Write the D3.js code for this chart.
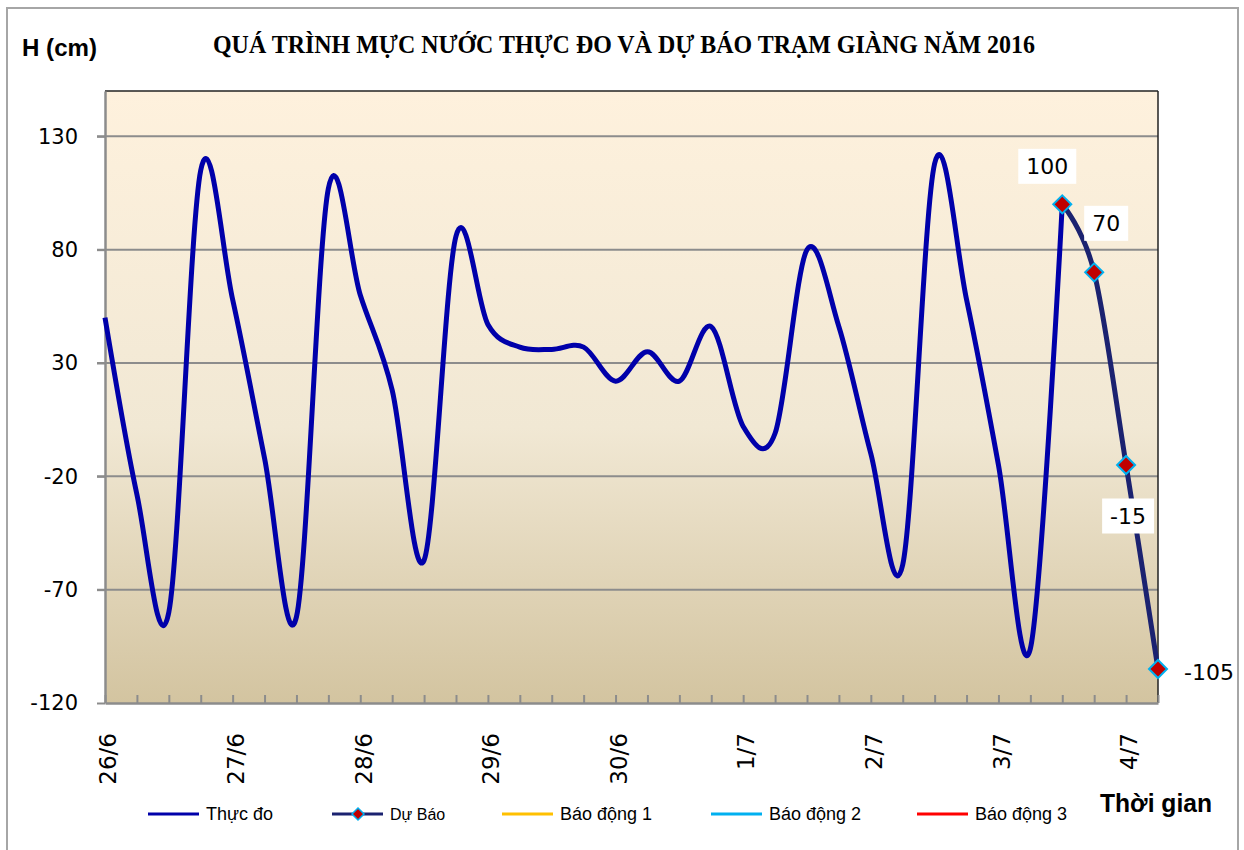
<!DOCTYPE html>
<html><head><meta charset="utf-8">
<script src="https://cdn.jsdelivr.net/npm/d3@7"></script>
<style>body{margin:0;background:#fff;overflow:hidden}</style></head>
<body><svg id="c" width="1244" height="850"></svg>
<script>
// ---------- data ----------
const categories = [
  "26/6 00h","26/6 06h","26/6 12h","26/6 18h",
  "27/6 00h","27/6 06h","27/6 12h","27/6 18h",
  "28/6 00h","28/6 06h","28/6 12h","28/6 18h",
  "29/6 00h","29/6 06h","29/6 12h","29/6 18h",
  "30/6 00h","30/6 06h","30/6 12h","30/6 18h",
  "1/7 00h","1/7 06h","1/7 12h","1/7 18h",
  "2/7 00h","2/7 06h","2/7 12h","2/7 18h",
  "3/7 00h","3/7 06h","3/7 12h","3/7 18h",
  "4/7 00h","4/7 06h"
];
const observedCategories = categories.slice(0, 31);
const observedValues = [
  50, -28, -80, 115,
  58, -12, -82, 107,
  60, 18, -57, 86,
  47, 37, 36, 37,
  22, 35, 22, 46,
  2, -1, 80, 46,
  -10, -59, 118, 58,
  -15, -96, 100
];
const forecastCategories = ["3/7 12h","3/7 18h","4/7 00h","4/7 06h"];
const forecastValues = [100, 70, -15, -105];
const forecastLabels = ["100", "70", "-15", "-105"];
const tickLabels = ["26/6","27/6","28/6","29/6","30/6","1/7","2/7","3/7","4/7"];
const tickCategories = ["26/6 00h","27/6 00h","28/6 00h","29/6 00h","30/6 00h","1/7 00h","2/7 00h","3/7 00h","4/7 00h"];
const yTicks = [-120, -70, -20, 30, 80, 130];
const legendNames = ["Thực đo", "Dự Báo", "Báo động 1", "Báo động 2", "Báo động 3"];
const titleText = "QUÁ TRÌNH MỰC NƯỚC THỰC ĐO VÀ DỰ BÁO TRẠM  GIÀNG NĂM 2016";

// ---------- layout / style ----------
const plot = {left: 105, right: 1158, top: 91, bottom: 703};
const colObs = "#0000AA", colFc = "#1B2270";
const legendColors = [colObs, colFc, "#FFC000", "#00B0F0", "#FF0000"];
const legendX = [148, 332, 502, 711, 917];
const legendFont = [18, 16, 18, 18, 18];
const labelOffsets = [[-15, -38], [12, -49], [2, 51], [51, 3]];

const svg = d3.select("#c");

const x = d3.scalePoint().domain(categories).range([plot.left, plot.right]);
const y = d3.scaleLinear().domain([-120, 150]).range([plot.bottom, plot.top]);

// outer frame
svg.append("rect").attr("x", 7).attr("y", 8).attr("width", 1231).attr("height", 860)
  .attr("fill", "#fff").attr("stroke", "#A6A6A6").attr("stroke-width", 2);

// gradient
const defs = svg.append("defs");
const g = defs.append("linearGradient").attr("id", "bg").attr("x1", 0).attr("y1", 0).attr("x2", 0).attr("y2", 1);
g.append("stop").attr("offset", "0%").attr("stop-color", "#FEF1DD");
g.append("stop").attr("offset", "55%").attr("stop-color", "#F1E8D4");
g.append("stop").attr("offset", "100%").attr("stop-color", "#D3C4A0");

svg.append("rect").attr("x", plot.left).attr("y", plot.top)
  .attr("width", plot.right - plot.left).attr("height", plot.bottom - plot.top)
  .attr("fill", "url(#bg)");

// gridlines
svg.append("g").selectAll("line").data(yTicks.filter(d => d !== -120)).join("line")
  .attr("x1", plot.left - 8).attr("x2", plot.right)
  .attr("y1", d => y(d)).attr("y2", d => y(d))
  .attr("stroke", "#8C8C8C").attr("stroke-width", 2);

// plot border top/right
svg.append("line").attr("x1", plot.left).attr("x2", plot.right).attr("y1", plot.top).attr("y2", plot.top)
  .attr("stroke", "#222").attr("stroke-width", 1.5);
svg.append("line").attr("x1", plot.right).attr("x2", plot.right).attr("y1", plot.top).attr("y2", plot.bottom)
  .attr("stroke", "#222").attr("stroke-width", 1.5);

// y axis
const yAxis = d3.axisLeft(y).tickValues(yTicks).tickSize(8).tickPadding(19).tickSizeOuter(0)
  .tickFormat(d => String(d));
const ya = svg.append("g").attr("transform", `translate(${plot.left},0)`).call(yAxis);
ya.select(".domain").attr("stroke", "#8C8C8C").attr("stroke-width", 2.5);
ya.selectAll(".tick line").attr("stroke", "#8C8C8C").attr("stroke-width", 2);
ya.selectAll("text").attr("font-family", "DejaVu Sans").attr("font-size", 21).attr("fill", "#000");

// x axis (ticks inward on every category)
const xAxis = d3.axisBottom(x).tickSize(-8).tickSizeOuter(0).tickFormat("");
const xa = svg.append("g").attr("transform", `translate(0,${plot.bottom})`).call(xAxis);
xa.select(".domain").attr("stroke", "#8C8C8C").attr("stroke-width", 2.5);
xa.selectAll(".tick line").attr("stroke", "#8C8C8C").attr("stroke-width", 2);

svg.append("g").selectAll("text").data(tickCategories).join("text")
  .attr("transform", d => `translate(${x(d) + 3},733) rotate(-90)`)
  .attr("text-anchor", "end").attr("dy", "0.36em")
  .attr("font-family", "DejaVu Sans").attr("font-size", 23).attr("fill", "#000")
  .text((d, i) => tickLabels[i]);

// lines
const line = d3.line().x(d => x(d[0])).y(d => y(d[1])).curve(d3.curveCardinal.tension(0));
svg.append("path").datum(observedCategories.map((c, i) => [c, observedValues[i]]))
  .attr("d", line).attr("fill", "none").attr("stroke", colObs).attr("stroke-width", 5)
  .attr("stroke-linejoin", "round");
svg.append("path").datum(forecastCategories.map((c, i) => [c, forecastValues[i]]))
  .attr("d", line).attr("fill", "none").attr("stroke", colFc).attr("stroke-width", 5)
  .attr("stroke-linejoin", "round");

const diamond = r => `M0,${-r}L${r},0L0,${r}L${-r},0Z`;
svg.append("g").selectAll("path").data(forecastCategories).join("path")
  .attr("transform", (d, i) => `translate(${x(d)},${y(forecastValues[i])})`)
  .attr("d", diamond(9)).attr("fill", "#C00000").attr("stroke", "#00B0F0").attr("stroke-width", 2);

// data labels
const lbl = svg.append("g");
forecastCategories.forEach((c, i) => {
  const cx = x(c) + labelOffsets[i][0], cy = y(forecastValues[i]) + labelOffsets[i][1];
  const t = lbl.append("text").attr("x", cx).attr("y", cy).attr("text-anchor", "middle")
    .attr("dominant-baseline", "central").attr("font-family", "DejaVu Sans").attr("font-size", 22)
    .attr("fill", "#000").text(forecastLabels[i]);
  const bb = t.node().getBBox();
  if (i < 3) {
    lbl.insert("rect", "text").attr("x", bb.x - 8).attr("y", bb.y - 5)
      .attr("width", bb.width + 16).attr("height", bb.height + 10).attr("fill", "#fff");
  }
});

// titles
svg.append("text").attr("x", 624).attr("y", 53).attr("text-anchor", "middle")
  .attr("font-family", "Liberation Serif").attr("font-weight", "bold").attr("font-size", 26)
  .attr("textLength", 822).attr("lengthAdjust", "spacingAndGlyphs").text(titleText);
svg.append("text").attr("x", 22).attr("y", 56)
  .attr("font-family", "Liberation Sans").attr("font-weight", "bold").attr("font-size", 24)
  .attr("textLength", 75).attr("lengthAdjust", "spacingAndGlyphs").text("H (cm)");
svg.append("text").attr("x", 1100).attr("y", 812)
  .attr("font-family", "Liberation Sans").attr("font-weight", "bold").attr("font-size", 25)
  .attr("textLength", 112).attr("lengthAdjust", "spacingAndGlyphs").text("Thời gian");

// legend
const lg = svg.append("g");
legendNames.forEach((n, i) => {
  const lx = legendX[i];
  lg.append("line").attr("x1", lx).attr("x2", lx + 51).attr("y1", 814).attr("y2", 814)
    .attr("stroke", legendColors[i]).attr("stroke-width", 3);
  if (i === 1) {
    lg.append("path").attr("transform", `translate(${lx + 26},814)`).attr("d", diamond(6))
      .attr("fill", "#C00000").attr("stroke", "#00B0F0").attr("stroke-width", 1.5);
  }
  lg.append("text").attr("x", lx + 58).attr("y", 814).attr("dominant-baseline", "central")
    .attr("font-family", "Liberation Sans").attr("font-size", legendFont[i]).attr("fill", "#000").text(n);
});
</script></body></html>
